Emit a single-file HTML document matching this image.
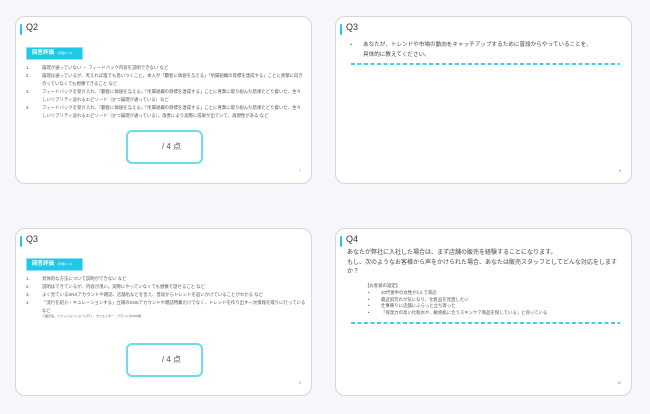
<!DOCTYPE html>
<html><head><meta charset="utf-8">
<style>
*{margin:0;padding:0;box-sizing:border-box}
body{width:650px;height:414px;background:#f5f7fb;position:relative;overflow:hidden;font-family:"Liberation Sans","Noto Sans CJK JP",sans-serif;color:#444}
.p{position:absolute;width:297px;height:168px;background:#fff;border:1px solid #d4d6da;border-radius:10px}
.bar{position:absolute;left:4px;width:2px;height:11px;background:#1ec8e6;border-radius:1px}
.q{position:absolute;left:10px;font-size:9px;color:#333}
.badge{position:absolute;left:10px;width:57px;height:13px;background:#1ec8e6;border:1px solid #8ee3f2;color:#fff;font-size:5.5px;line-height:11px;padding-left:5px;font-weight:bold}
.badge small{font-size:3px;font-weight:normal}
.t{position:absolute;font-size:4.4px;line-height:8px;white-space:nowrap;color:#555}
.n{position:absolute;left:10px;font-size:4.4px;line-height:8px;color:#555}
.box{position:absolute;left:110px;width:77px;height:34px;border:2px solid #6fdcee;border-radius:6px;font-size:8px;color:#555}
.box span{position:absolute;right:20px;top:9px}
.pg{position:absolute;right:10px;bottom:10px;font-size:3.5px;color:#888}
.dash{position:absolute;left:15px;width:269px;height:1.5px;background:repeating-linear-gradient(90deg,#3fd0ea 0 4px,transparent 4px 6.5px)}
</style></head><body>

<div class="p" style="left:15px;top:16px">
<div class="bar" style="top:7px"></div><div class="q" style="top:5px">Q2</div>
<div class="badge" style="top:30px">回答評価 <small>（評価1〜4）</small></div>
<div class="n" style="top:47px">1.</div><div class="t" style="left:26px;top:47px">論理が通っていない ・ フィードバック内容を説明できない など</div>
<div class="n" style="top:55px">2.</div><div class="t" style="left:26px;top:55px">論理は通っているが、考えれば誰でも思いつくこと。本人が「顧客に価値を与える」「所属組織の目標を達成する」ことに真摯に向き<br>合っていなくても想像できること など</div>
<div class="n" style="top:71px">3.</div><div class="t" style="left:26px;top:71px">フィードバックを受け入れ、「顧客に価値を与える」「所属組織の目標を達成する」ことに真摯に取り組んだ結果たどり着いた、生々<br>しいリアリティ溢れるエピソード（かつ論理が通っている）など</div>
<div class="n" style="top:87px">4.</div><div class="t" style="left:26px;top:87px">フィードバックを受け入れ、「顧客に価値を与える」「所属組織の目標を達成する」ことに真摯に取り組んだ結果たどり着いた、生々<br>しいリアリティ溢れるエピソード（かつ論理が通っている）。改善により実際に成果が出ていて、再現性がある など</div>
<div class="box" style="top:113px"><span>/ 4 点</span></div>
<div class="pg">7</div>
</div>

<div class="p" style="left:335px;top:16px">
<div class="bar" style="top:7px"></div><div class="q" style="top:5px">Q3</div>
<div class="t" style="left:14px;top:23px;font-size:5.6px;line-height:10px">•</div>
<div class="t" style="left:27px;top:23px;font-size:5.6px;line-height:10px;color:#444">あなたが、トレンドや市場の動向をキャッチアップするために普段からやっていることを、<br>具体的に教えてください。</div>
<div class="dash" style="top:46px"></div>
<div class="pg">8</div>
</div>

<div class="p" style="left:15px;top:228px">
<div class="bar" style="top:7px"></div><div class="q" style="top:5px">Q3</div>
<div class="badge" style="top:29px">回答評価 <small>（評価1〜4）</small></div>
<div class="n" style="top:46px">1.</div><div class="t" style="left:26px;top:46px">具体的な方法について説明ができない など</div>
<div class="n" style="top:54px">2.</div><div class="t" style="left:26px;top:54px">説明はできているが、内容が浅い。実際にやっていなくても想像で話せること など</div>
<div class="n" style="top:62px">3.</div><div class="t" style="left:26px;top:62px">よく見ているSNSアカウントや雑誌、店舗名などを言え、普段からトレンドを追いかけていることがわかる など</div>
<div class="n" style="top:70px">4.</div><div class="t" style="left:26px;top:70px">「流行を紹介・キュレーションする」立場のSNSアカウントや雑誌特集だけでなく、トレンドを作り出す一次情報を取りに行っている<br>など</div>
<div class="t" style="left:26px;top:85px;font-size:3px;line-height:5px">※展示会、ファッションショーに行く、クリエイター、ブランドのSNS等</div>
<div class="box" style="top:114px"><span>/ 4 点</span></div>
<div class="pg">9</div>
</div>

<div class="p" style="left:335px;top:228px">
<div class="bar" style="top:7px"></div><div class="q" style="top:5px">Q4</div>
<div class="t" style="left:11px;top:20px;font-size:6px;line-height:9.5px;color:#444">あなたが弊社に入社した場合は、まず店舗の販売を経験することになります。<br>もし、次のようなお客様から声をかけられた場合、あなたは販売スタッフとしてどんな対応をします<br>か？</div>
<div class="t" style="left:29px;top:53px;font-size:4.4px;line-height:7px">【お客様の設定】</div>
<div class="t" style="left:32px;top:61px;font-size:4.4px;line-height:6.7px">•<br>•<br>•<br>•</div>
<div class="t" style="left:45px;top:61px;font-size:4.4px;line-height:6.7px">20代後半の女性が1人で来店<br>最近肌荒れが気になり、化粧品を見直したい<br>仕事帰りに店舗にふらっと立ち寄った<br>「保湿力の高い化粧水や、敏感肌に合うスキンケア商品を探している」と仰っている</div>
<div class="dash" style="top:93px"></div>
<div class="pg">10</div>
</div>

</body></html>
